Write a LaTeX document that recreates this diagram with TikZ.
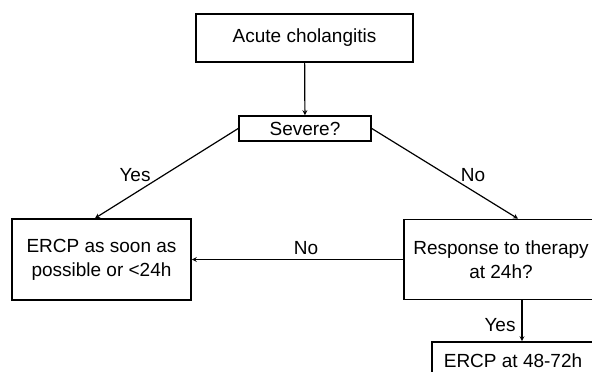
\documentclass[tikz,border=0pt]{standalone}
\usepackage{fontspec}
\setmainfont{Liberation Sans}
\usepackage{tikz}

\begin{document}
\begin{tikzpicture}[x=1pt,y=-1pt, inner sep=0pt, >=stealth,
  box/.style={draw=black, line width=1.6pt, align=center, font=\fontsize{19}{24}\selectfont},
  lbl/.style={font=\fontsize{19}{24}\selectfont}]
\useasboundingbox (0,0) rectangle (592,372);
\clip (0,0) rectangle (592,372);
\node (ac) at (304.5,38) [box, minimum width=217pt, minimum height=48pt] {Acute cholangitis};
\node (sev) at (305,128.5) [box, minimum width=132pt, minimum height=25pt] {Severe?};
\node (early) at (101.5,259.5) [box, minimum width=179pt, minimum height=81pt] {ERCP as soon as\\possible or <24h};
\node (resp) at (501,259.5) [box, minimum width=194pt, minimum height=80pt] {Response to therapy\\at 24h?};
\node (late) at (513,361) [box, minimum width=162pt, minimum height=38pt] {ERCP at 48-72h};
\node (yes1) at (135,175) [lbl] {Yes};
\node (no1) at (473,175) [lbl] {No};
\node (no2) at (306,248) [lbl] {No};
\node (yes2) at (500,325) [lbl] {Yes};
\draw[->, line width=1.2pt] (ac) -- (sev); 
\draw[->, line width=1.2pt] (sev.west) -- ([xshift=-6.5pt]early.north); 
\draw[->, line width=1.2pt] (sev.east) -- ([xshift=17pt]resp.north); 
\draw[->, line width=1.2pt] (resp.west) -- (early.east); 
\draw[->, line width=1.2pt] ([xshift=21pt]resp.south) -- ([xshift=21pt]resp.south |- late.north); 
\end{tikzpicture}
\end{document}
